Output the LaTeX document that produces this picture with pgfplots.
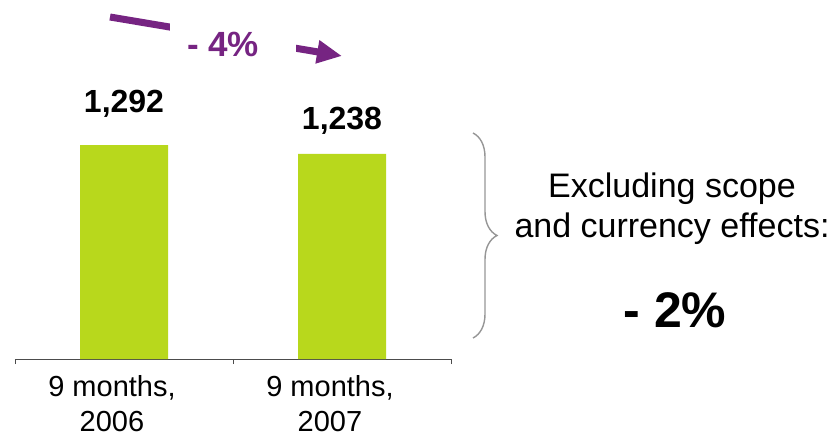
\documentclass[border=0pt]{standalone}
\usepackage{pgfplots}
\pgfplotsset{compat=1.18}
\usepackage{fontspec}
\setmainfont{Liberation Sans}
\usetikzlibrary{arrows.meta,decorations.pathreplacing}
\definecolor{barg}{RGB}{184,216,28}
\definecolor{purp}{RGB}{118,36,130}
\definecolor{braceg}{RGB}{150,150,150}
\begin{document}
\begin{tikzpicture}[x=1pt,y=1pt]
\path[use as bounding box] (0,0) rectangle (839,437);
\begin{axis}[
  at={(15pt,78pt)}, anchor=south west,
  scale only axis, width=436pt, height=359pt,
  xmin=-0.5, xmax=1.5, ymin=0, ymax=2168,
  axis x line=bottom, axis y line=none,
  axis line style={-, draw=black!70, line width=0.8pt},
  xtick={0,1}, xticklabels={{9 months,\\2006},{9 months,\\2007}},
  major tick length=0pt,
  minor xtick={-0.5,0.5,1.5}, minor tick length=5pt, tick align=outside,
  tick style={draw=black!70, line width=0.8pt},
  xticklabel style={font=\fontsize{29}{35}\selectfont, align=center, yshift=-13pt, xshift=-12pt},
  bar width=88pt, clip=false]
\addplot[ybar, fill=barg, draw=none] coordinates {(0,1292) (1,1238)};
\node[anchor=base, yshift=33pt, font=\bfseries\fontsize{32}{38}\selectfont] at (axis cs:0,1292) {1,292};
\node[anchor=base, yshift=24pt, font=\bfseries\fontsize{32}{38}\selectfont] at (axis cs:1,1238) {1,238};
\end{axis}
% purple arrow
\draw[purp, line width=7pt, -{Triangle[length=25pt,width=22pt]}] (110,420) -- (342,381);
\fill[white] (170,360) rectangle (296,437);
\node[anchor=base, text=purp, font=\bfseries\fontsize{35}{40}\selectfont] at (223,380) {- 4\%};
% brace
\draw[braceg, line width=1.4pt, decorate, decoration={brace, amplitude=24pt}] (473,304) -- (473,99);
\node[anchor=base, font=\fontsize{34}{40}\selectfont] at (672,239) {Excluding scope};
\node[anchor=base, font=\fontsize{34}{40}\selectfont] at (672,199) {and currency effects:};
\node[anchor=base, font=\bfseries\fontsize{50}{56}\selectfont] at (675,109) {- 2\%};
\end{tikzpicture}
\end{document}
